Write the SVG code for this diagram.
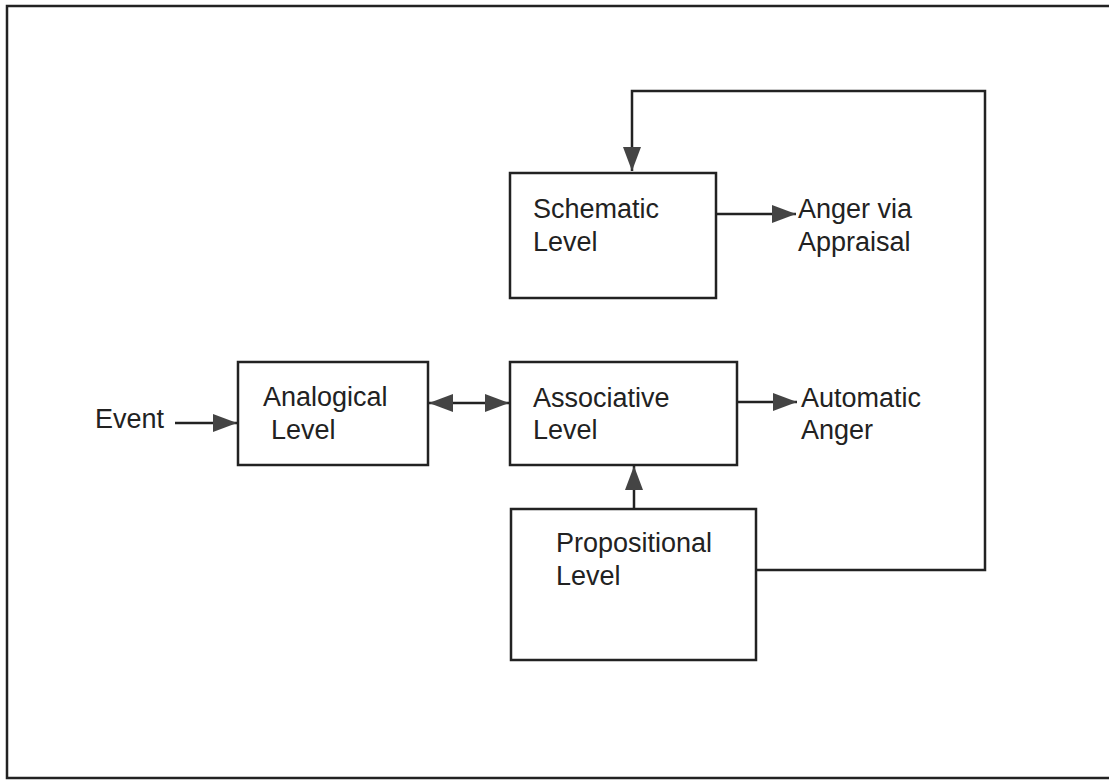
<svg xmlns="http://www.w3.org/2000/svg" width="1109" height="780" viewBox="0 0 1109 780">
<style>
.box{fill:#fff;stroke:#222;stroke-width:2.5}
.ln{fill:none;stroke:#222;stroke-width:2.5}
text{font-family:"Liberation Sans",Arial,sans-serif;font-size:27px;fill:#222}
</style>
<defs>
<marker id="ah" viewBox="0 0 24 18" refX="24" refY="9" markerWidth="24" markerHeight="18" markerUnits="userSpaceOnUse" orient="auto-start-reverse">
<path d="M0,0 L24,9 L0,18 Z" fill="#444"/>
</marker>
</defs>
<rect x="0" y="0" width="1109" height="780" fill="#fff"/>
<path d="M1115,6 H7 V778 H1115" fill="none" stroke="#222" stroke-width="2.5"/>
<g id="connectors">
<path class="ln" d="M175,423 H237" marker-end="url(#ah)"/>
<path class="ln" d="M429,403 H509" marker-start="url(#ah)" marker-end="url(#ah)"/>
<path class="ln" d="M737,402 H797" marker-end="url(#ah)"/>
<path class="ln" d="M716,214 H796" marker-end="url(#ah)"/>
<path class="ln" d="M634,509 V466" marker-end="url(#ah)"/>
<path class="ln" d="M756,570 H985 V91 H632 V171" marker-end="url(#ah)"/>
</g>
<g id="schematic">
<rect class="box" x="510" y="173" width="206" height="125"/>
<text x="533" y="218">Schematic</text>
<text x="533" y="251">Level</text>
</g>
<g id="analogical">
<rect class="box" x="238" y="362" width="190" height="103"/>
<text x="263" y="406">Analogical</text>
<text x="271" y="439">Level</text>
</g>
<g id="associative">
<rect class="box" x="510" y="362" width="227" height="103"/>
<text x="533" y="407">Associative</text>
<text x="533" y="439">Level</text>
</g>
<g id="propositional">
<rect class="box" x="511" y="509" width="245" height="151"/>
<text x="556" y="552">Propositional</text>
<text x="556" y="585">Level</text>
</g>
<g id="labels">
<text x="95" y="428">Event</text>
<text x="798" y="218">Anger via</text>
<text x="798" y="251">Appraisal</text>
<text x="801" y="407">Automatic</text>
<text x="801" y="439">Anger</text>
</g>
</svg>
